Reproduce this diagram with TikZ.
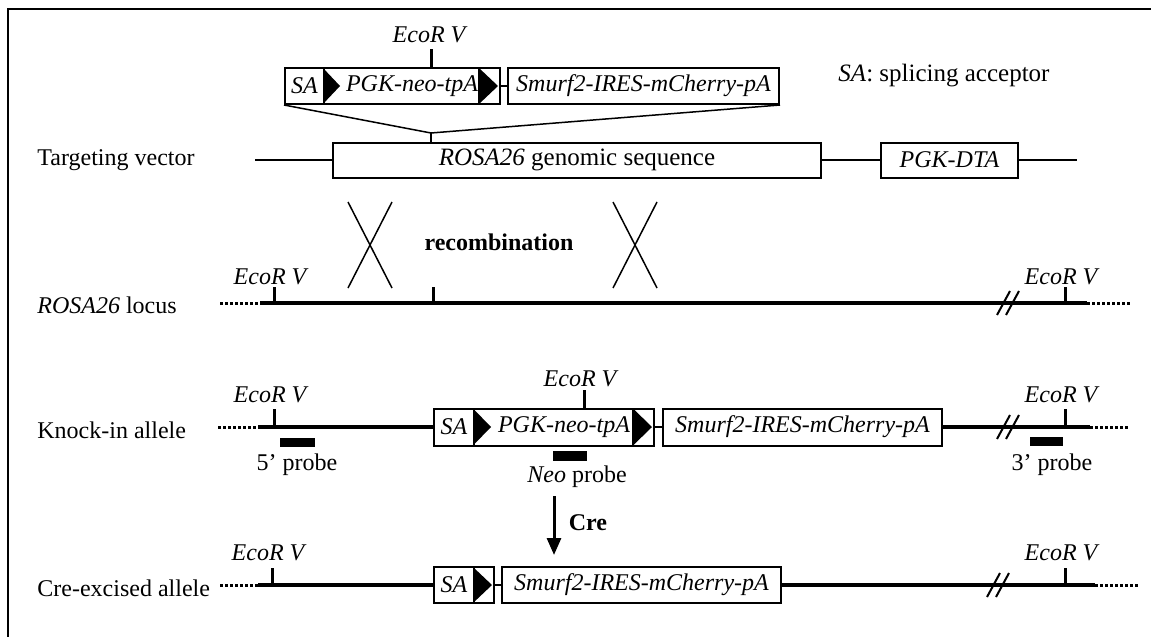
\documentclass[tikz,border=0pt]{standalone}
\usepackage{fontspec}
\setmainfont{Liberation Serif}
\usetikzlibrary{arrows.meta}
\begin{document}
\begin{tikzpicture}[x=0.5pt,y=-0.5pt,
  every node/.style={font=\fontsize{12}{14}\selectfont, inner sep=1pt},
  box/.style={draw, line width=1pt, inner sep=0pt, anchor=west, font=\fontsize{12}{14}\selectfont},
  ibox/.style={box, font=\fontsize{12}{14}\selectfont\itshape},
  thinline/.style={line width=0.75pt},
  joinline/.style={line width=1pt},
  chrom/.style={line width=2pt},
  dots/.style={line width=1.5pt, dash pattern=on 1.5pt off 1pt},
  tickmark/.style={line width=1.5pt},
  probe/.style={fill=black, draw=none, inner sep=0pt},
  site/.style={font=\fontsize{12}{14}\selectfont\itshape},
  lbl/.style={anchor=west},
  xover/.style={line width=0.75pt},
  brk/.style={line width=1pt},
  crearrow/.style={line width=1.5pt, -{Triangle[width=7pt,length=8.5pt]}},
]
\useasboundingbox (0,0) rectangle (1151,637);
% frame
\draw[line width=1.25pt] (8,637) -- (8,9) -- (1151,9);

% ---------------- Row 2: targeting vector
\node[lbl] (tvlab) at (35,160) {Targeting vector};
\node[box, minimum width=244pt, minimum height=17.5pt, font=\fontsize{12.5}{14}\selectfont] (rosa) at (332,160) {\textit{ROSA26} genomic sequence};
\node[ibox, minimum width=68.5pt, minimum height=17.5pt] (dta) at (880,160) {PGK-DTA};
\coordinate (tvL) at (255,160);
\coordinate (tvR) at (1077,160);
\draw[thinline] (tvL) -- (rosa.west);
\draw[thinline] (rosa.east) -- (dta.west);
\draw[thinline] (dta.east) -- (tvR);

% ---------------- Row 1: cassette
\node[ibox, minimum width=19.5pt, minimum height=18pt] (saA) at (284,86) {SA};
\node[ibox, minimum width=88pt, minimum height=18pt] (pgkA) at (323,86) {PGK-neo-tpA};
\node[ibox, minimum width=135.5pt, minimum height=18pt] (smA) at (507,86) {Smurf2-IRES-mCherry-pA};
\fill (323,68) -- (340,86) -- (323,104) -- cycle;
\draw[joinline] (479,68) -- (479,104);
\fill (479,68) -- (498,86) -- (479,104) -- cycle;
\draw[joinline] (pgkA.east) -- (smA.west);
\coordinate (ecoA) at (431,49);
\draw[tickmark] (pgkA.north -| ecoA) -- (ecoA);
\node[site] (ecoAl) at (429,35) {EcoR V};
\coordinate (join) at (431,133);
\draw[thinline] (saA.south west) -- (join) -- (smA.south east);
\draw[thinline] (join) -- (rosa.north -| join);
\node[lbl, font=\fontsize{12.5}{15}\selectfont] (sakey) at (836,76) {\textit{SA}: splicing acceptor};

% ---------------- crossovers
\draw[xover] (348,202) -- (392,288);
\draw[xover] (392,202) -- (348,288);
\draw[xover] (613,202) -- (657,288);
\draw[xover] (657,202) -- (613,288);
\node[font=\fontsize{12}{14}\selectfont\bfseries] (recomb) at (499,242) {recombination};

% ---------------- Row 3: ROSA26 locus
\node[lbl] (loclab) at (35,305) {\textit{ROSA26} locus};
\coordinate (r3a) at (220,303);
\coordinate (r3b) at (260,303);
\coordinate (r3c) at (1087,303);
\coordinate (r3d) at (1130,303);
\draw[dots] (r3a) -- (r3b);
\draw[chrom] (r3b) -- (r3c);
\draw[dots] (r3c) -- (r3d);
\draw[tickmark] (274,303) -- (274,287);
\draw[tickmark] (433,303) -- (433,287);
\draw[tickmark] (1065,303) -- (1065,287);
\node[site] (e3l) at (270,277) {EcoR V};
\node[site] (e3r) at (1061,277) {EcoR V};
\draw[brk] (997,315) -- (1010,291);
\draw[brk] (1006,315) -- (1019,291);

% ---------------- Row 4: knock-in allele
\node[lbl] (kilab) at (35,430) {Knock-in allele};
\node[ibox, minimum width=20pt, minimum height=18.5pt] (saB) at (433,427) {SA};
\node[ibox, minimum width=90pt, minimum height=18.5pt] (pgkB) at (473,427) {PGK-neo-tpA};
\node[ibox, minimum width=139.5pt, minimum height=18.5pt] (smB) at (662,427) {Smurf2-IRES-mCherry-pA};
\fill (473,408.5) -- (491,427) -- (473,445.5) -- cycle;
\draw[joinline] (633,408.5) -- (633,445.5);
\fill (633,408.5) -- (652,427) -- (633,445.5) -- cycle;
\draw[joinline] (pgkB.east) -- (smB.west);
\coordinate (r4a) at (218,427);
\coordinate (r4b) at (258,427);
\coordinate (r4c) at (1090,427);
\coordinate (r4d) at (1130,427);
\draw[dots] (r4a) -- (r4b);
\draw[chrom] (r4b) -- (saB.west);
\draw[chrom] (smB.east) -- (r4c);
\draw[dots] (r4c) -- (r4d);
\draw[tickmark] (274,427) -- (274,409);
\draw[tickmark] (1065,427) -- (1065,409);
\coordinate (ecoB) at (584,390);
\draw[tickmark] (pgkB.north -| ecoB) -- (ecoB);
\node[site] (e4l) at (270,395) {EcoR V};
\node[site] (e4r) at (1061,395) {EcoR V};
\node[site] (e4m) at (580,379) {EcoR V};
\draw[brk] (997,439) -- (1010,415);
\draw[brk] (1006,439) -- (1019,415);
\node[probe, minimum width=17.5pt, minimum height=4.5pt] (p5) at (297,442) {};
\node (p5l) at (297,465) {5’ probe};
\node[probe, minimum width=17pt, minimum height=5pt] (pneo) at (570,456) {};
\node (pneol) at (577,477) {\textit{Neo} probe};
\node[probe, minimum width=16.5pt, minimum height=4.5pt] (p3) at (1046,441) {};
\node (p3l) at (1052,465) {3’ probe};

% ---------------- Cre arrow
\coordinate (creS) at (554,496);
\coordinate (creE) at (554,555);
\draw[crearrow] (creS) -- (creE);
\node[font=\fontsize{12}{14}\selectfont\bfseries] (crelab) at (588,523) {Cre};

% ---------------- Row 5: Cre-excised allele
\node[lbl] (celab) at (35,588) {Cre-excised allele};
\node[ibox, minimum width=20pt, minimum height=18pt] (saC) at (433,585) {SA};
\node[box, minimum width=10pt, minimum height=18pt] (loxC) at (473,585) {};
\node[ibox, minimum width=139.5pt, minimum height=18pt] (smC) at (501,585) {Smurf2-IRES-mCherry-pA};
\fill (473,567) -- (492,585) -- (473,603) -- cycle;
\draw[joinline] (loxC.east) -- (smC.west);
\coordinate (r5a) at (220,585);
\coordinate (r5b) at (258,585);
\coordinate (r5c) at (1095,585);
\coordinate (r5d) at (1138,585);
\draw[dots] (r5a) -- (r5b);
\draw[chrom] (r5b) -- (saC.west);
\draw[chrom] (smC.east) -- (r5c);
\draw[dots] (r5c) -- (r5d);
\draw[tickmark] (272,585) -- (272,568);
\draw[tickmark] (1065,585) -- (1065,568);
\node[site] (e5l) at (268,553) {EcoR V};
\node[site] (e5r) at (1061,553) {EcoR V};
\draw[brk] (987,597) -- (1000,573);
\draw[brk] (996,597) -- (1009,573);
\end{tikzpicture}
\end{document}
